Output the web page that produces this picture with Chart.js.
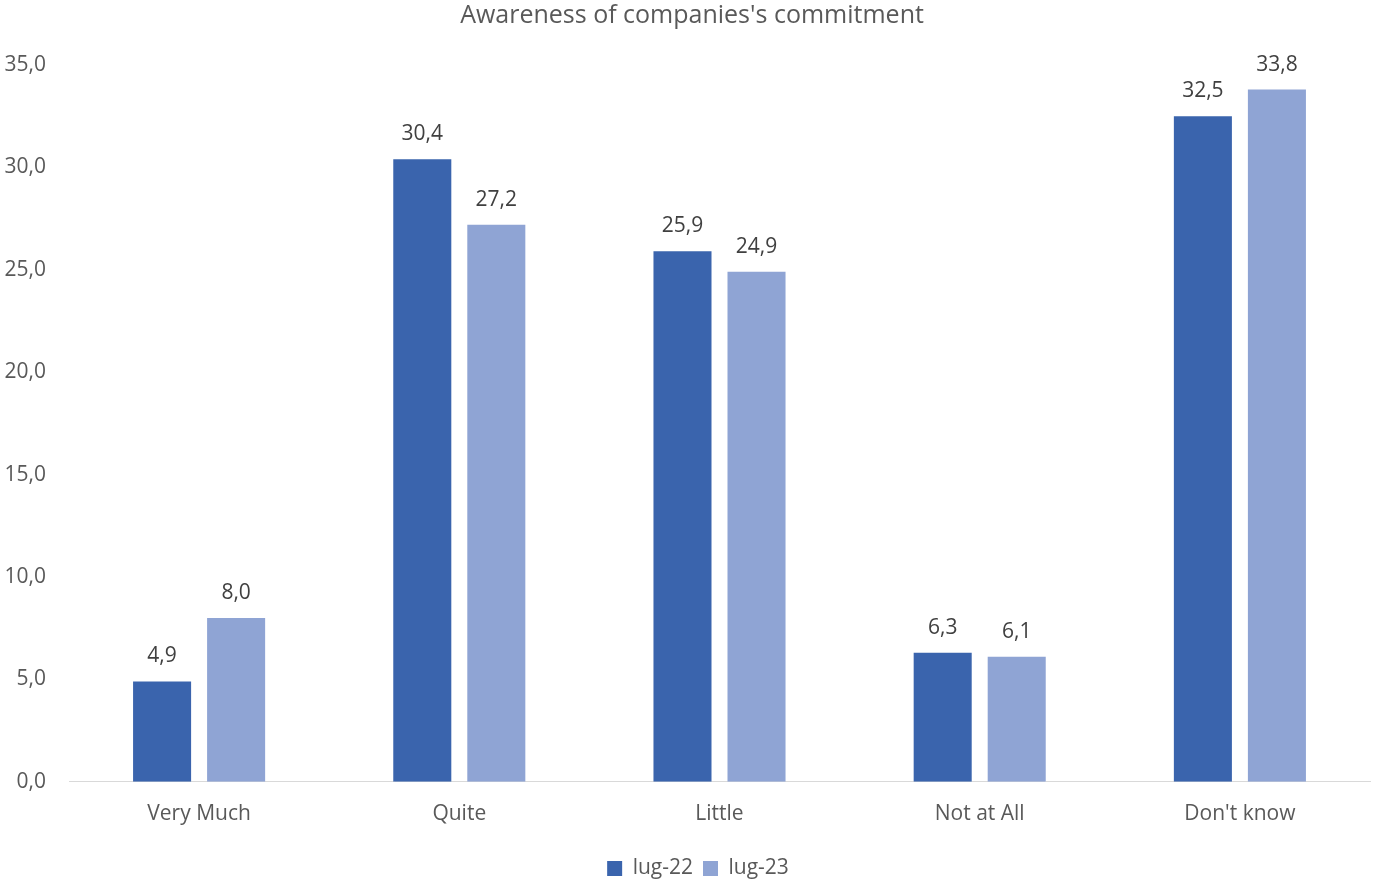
<!DOCTYPE html>
<html>
<head>
<meta charset="utf-8">
<script src="https://cdn.jsdelivr.net/npm/chart.js@4/dist/chart.umd.min.js"></script>
<style>
html,body{margin:0;padding:0;background:#fff;}
#wrap{width:1373px;height:880px;}
</style>
</head>
<body>
<div id="wrap"><canvas id="c" width="1373" height="880"></canvas></div>
<script>
const categories = ["Very Much", "Quite", "Little", "Not at All", "Don't know"];
const seriesNames = ["lug-22", "lug-23"];
const lug22 = [4.9, 30.4, 25.9, 6.3, 32.5];
const lug23 = [8.0, 27.2, 24.9, 6.1, 33.8];
const yTicks = [0, 5, 10, 15, 20, 25, 30, 35];

const FONT = "'Open Sans', 'Noto Sans', sans-serif";
const fmt = v => v.toFixed(1).replace('.', ',');

const labelPlugin = {
  id: 'valueLabels',
  afterDatasetsDraw(chart) {
    const ctx = chart.ctx;
    ctx.save();
    ctx.font = "21px " + FONT;
    ctx.fillStyle = '#404040';
    ctx.textAlign = 'center';
    ctx.textBaseline = 'middle';
    chart.data.datasets.forEach((ds, i) => {
      const meta = chart.getDatasetMeta(i);
      meta.data.forEach((bar, j) => {
        ctx.fillText(fmt(ds.data[j]), bar.x, bar.y - 25);
      });
    });
    ctx.restore();
  }
};

const shiftPlugin = {
  id: 'shiftBlocks',
  afterLayout(chart) {
    const lg = chart.legend;
    if (lg) { lg.top += 9; lg.bottom += 9; lg.left += 13; lg.right += 13; }
    const tb = chart.titleBlock;
    if (tb) { tb.left += 7; tb.right += 7; }
  }
};

new Chart(document.getElementById('c'), {
  type: 'bar',
  data: {
    labels: categories,
    datasets: [
      { label: seriesNames[0], data: lug22, backgroundColor: '#3a64ad', borderWidth: 0 },
      { label: seriesNames[1], data: lug23, backgroundColor: '#8fa4d4', borderWidth: 0 }
    ]
  },
  options: {
    responsive: false,
    animation: false,
    devicePixelRatio: 1,
    layout: { padding: { left: 0, right: 3, top: 0, bottom: 0 } },
    datasets: { bar: { categoryPercentage: 0.569, barPercentage: 0.784 } },
    plugins: {
      title: {
        display: true,
        text: "Awareness of companies's commitment",
        color: '#595959',
        font: { family: FONT, size: 25, weight: 'normal' },
        padding: { top: 1, bottom: 34 }
      },
      legend: {
        position: 'bottom',
        labels: {
          color: '#595959',
          font: { family: FONT, size: 21 },
          boxWidth: 15, boxHeight: 15, padding: 10
        }
      },
      tooltip: { enabled: false }
    },
    scales: {
      x: {
        grid: { display: false },
        border: { display: true, color: '#d9d9d9', width: 1 },
        ticks: { color: '#595959', font: { family: FONT, size: 21 }, padding: 12 }
      },
      y: {
        min: 0, max: 35,
        afterBuildTicks: s => { s.ticks = yTicks.map(v => ({ value: v })); },
        afterFit: s => { s.width = 69; },
        grid: { display: false },
        border: { display: false },
        ticks: { color: '#595959', font: { family: FONT, size: 21 }, padding: 15, callback: v => fmt(v) }
      }
    }
  },
  plugins: [labelPlugin, shiftPlugin]
});
</script>
</body>
</html>
